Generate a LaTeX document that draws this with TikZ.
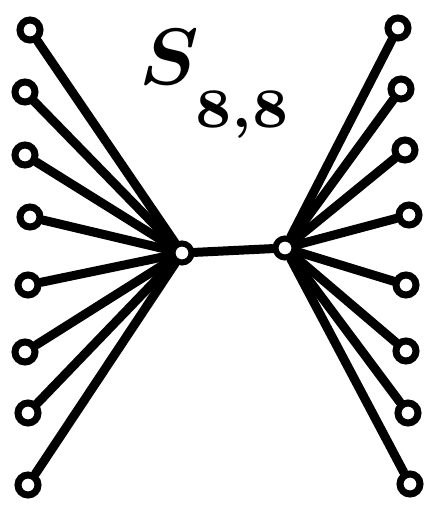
\documentclass[tikz,border=0pt]{standalone}
\begin{document}
\begin{tikzpicture}[x=1pt, y=-1pt, line width=9pt, line cap=round,
    leaf/.style={circle, draw, line width=7pt, fill=white, minimum size=20pt, inner sep=0pt},
    hub/.style={circle, draw, line width=6pt, fill=white, minimum size=19pt, inner sep=0pt}]
    \useasboundingbox (0,0) rectangle (426,506);
    % Hai đỉnh trung tâm
    \node[hub] (u) at (182,253) {};
    \node[hub] (v) at (285,248) {};
    % Lá bên trái và bên phải
    \foreach \i/\px/\py in {1/30/30, 2/25/92, 3/25/155, 4/30/217, 5/28/285, 6/25/352, 7/28/413, 8/28/485}
        \node[leaf] (a\i) at (\px,\py) {};
    \foreach \i/\px/\py in {1/398/28, 2/401/89, 3/405/150, 4/409/215, 5/406/285, 6/406/351, 7/408/413, 8/410/484}
        \node[leaf] (b\i) at (\px,\py) {};
    % Cạnh
    \draw (u) -- (v);
    \foreach \i in {1,...,8} {
        \draw (u) -- (a\i);
        \draw (v) -- (b\i);
    }
    % Tên đồ thị
    \node (name) at (216,84) {\scalebox{8}{\mathversion{bold}$S_{\raisebox{-4pt}{$\scriptstyle 8,8$}}$}};
\end{tikzpicture}
\end{document}
